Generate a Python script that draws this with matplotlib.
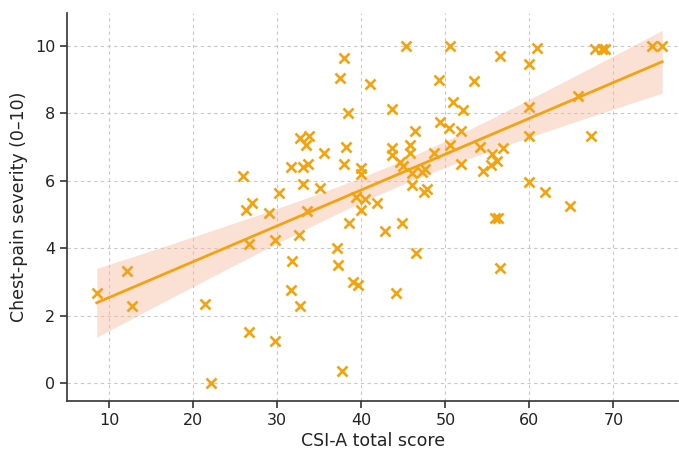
import numpy as np
import matplotlib
matplotlib.use("Agg")
import matplotlib.pyplot as plt

# CSI-A total score (x) and chest-pain severity (y)
csi_a = [
    25.9, 27.0, 30.2, 26.3, 29.0,
    8.5, 12.1, 12.7, 21.4, 22.1, 26.6, 29.7, 26.6, 29.7,
    33.5, 33.0, 35.1, 31.6, 33.0, 33.7, 32.7, 33.8, 33.4, 35.5,
    37.9, 37.4, 38.4, 38.2, 37.9, 39.9, 40.0, 39.4, 40.4, 41.8,
    41.0, 43.6, 45.3, 43.7, 43.7, 44.6, 44.9, 45.8, 45.8, 46.4,
    46.0, 46.0, 47.2, 47.6, 47.5, 47.8, 48.6, 49.2, 49.3, 50.6,
    50.9, 52.1, 50.4, 51.8, 50.6, 51.8, 53.4,
    56.5, 60.9, 60.0, 67.8, 68.6, 69.0, 74.6, 75.8, 65.8, 60.0,
    60.0, 67.3, 54.1, 56.9, 55.5, 56.1, 55.4, 54.5, 60.0, 61.8,
    64.8, 55.9, 56.3, 56.5,
    32.6, 31.7, 31.6, 32.7, 38.5, 37.1, 37.2, 39.0, 39.6, 37.7,
    40.0, 42.8, 44.8, 46.5, 44.1,
]
pain = [
    6.15, 5.35, 5.65, 5.15, 5.05,
    2.67, 3.33, 2.29, 2.34, 0.02, 1.51, 1.25, 4.12, 4.25,
    5.10, 5.92, 5.79, 6.40, 6.40, 6.49, 7.26, 7.33, 7.06, 6.83,
    9.63, 9.03, 8.00, 7.01, 6.49, 6.37, 6.19, 5.53, 5.45, 5.33,
    8.87, 8.12, 9.99, 6.96, 6.76, 6.55, 6.45, 7.06, 6.81, 7.48,
    6.24, 5.89, 6.27, 6.34, 5.68, 5.75, 6.83, 8.98, 7.75, 9.99,
    8.34, 8.10, 7.55, 7.48, 7.06, 6.49, 8.95,
    9.69, 9.92, 9.46, 9.89, 9.89, 9.89, 9.99, 9.99, 8.51, 8.19,
    7.33, 7.33, 7.01, 6.96, 6.79, 6.59, 6.47, 6.30, 5.97, 5.68,
    5.25, 4.89, 4.89, 3.42,
    4.41, 3.62, 2.76, 2.29, 4.74, 4.00, 3.50, 3.01, 2.91, 0.37,
    5.13, 4.51, 4.74, 3.85, 2.67,
]
x_ticks = [10, 20, 30, 40, 50, 60, 70]
y_ticks = [0, 2, 4, 6, 8, 10]

orange = "#F2A30F"

x = np.array(csi_a)
y = np.array(pain)
n = len(x)
slope, intercept = np.polyfit(x, y, 1)
xs = np.linspace(x.min(), x.max(), 200)
ys = intercept + slope * xs
resid = y - (intercept + slope * x)
s = np.sqrt(np.sum(resid**2) / (n - 2))
sxx = np.sum((x - x.mean())**2)
se = s * np.sqrt(1.0 / n + (xs - x.mean())**2 / sxx)
t = 1.985
lo, hi = ys - t * se, ys + t * se

fig = plt.figure(figsize=(6.79, 4.51), dpi=100)
ax = fig.add_axes([67.3 / 679, 50 / 451, (679 - 67.3) / 679, (401 - 13.3) / 451])

ax.fill_between(xs, lo, hi, color="#F7B799", alpha=0.42, linewidth=0, zorder=2)
ax.plot(xs, ys, color=orange, linewidth=2, zorder=3)
ax.scatter(x, y, marker="x", s=52, color=orange, linewidths=1.9, zorder=4)

ax.set_xlim(5.0, 77.8)
ax.set_ylim(-0.52, 10.96)
ax.set_xticks(x_ticks)
ax.set_yticks(y_ticks)
ax.grid(True, linestyle=(0, (3, 3)), color="#c8c8c8", linewidth=0.8, zorder=0)
ax.set_axisbelow(True)
for side in ("top", "right"):
    ax.spines[side].set_visible(False)
for side in ("left", "bottom"):
    ax.spines[side].set_color("#333333")
    ax.spines[side].set_linewidth(1.2)
ax.tick_params(axis="both", labelsize=11.5, colors="#333333", length=5, width=1.2,
               labelcolor="#222222")
ax.set_xlabel("CSI-A total score", fontsize=12.5, color="#222222", labelpad=3)
ax.set_ylabel("Chest-pain severity (0–10)", fontsize=12.5, color="#222222", labelpad=5)

fig.savefig("out.png", dpi=100)
